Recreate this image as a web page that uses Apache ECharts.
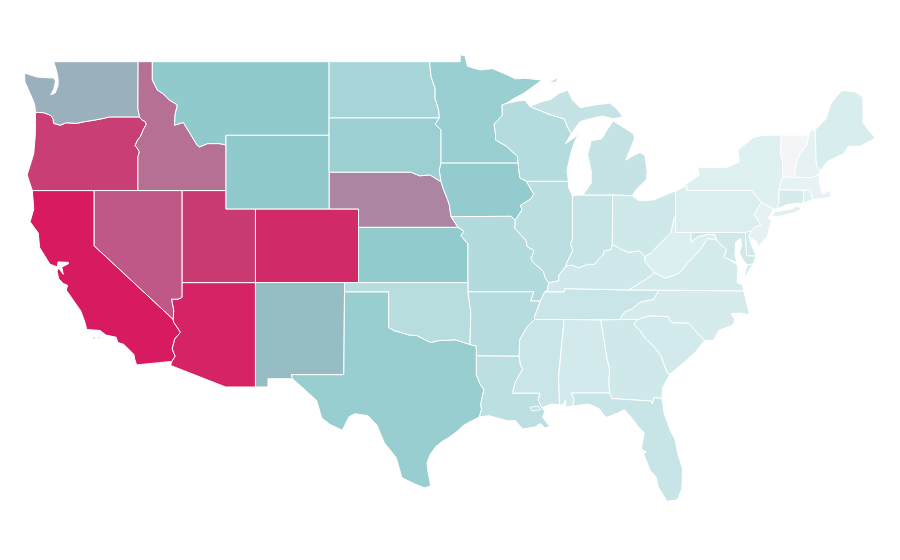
<!DOCTYPE html>
<html>
<head>
<meta charset="utf-8">
<style>
    html, body { margin: 0; padding: 0; background: #fff; }
    #box1 { width: 900px; height: 560px; }
</style>
</head>
<body>
<div id="box1"></div>
<script src="https://cdn.jsdelivr.net/npm/echarts@6/dist/echarts.min.js"></script>
<script>
var stateNames = ['California', 'Arizona', 'Colorado', 'Utah', 'Oregon', 'Nevada', 'Idaho', 'Nebraska', 'Washington', 'New Mexico',
    'Montana', 'Wyoming', 'Kansas', 'Iowa', 'Texas', 'North Dakota', 'South Dakota', 'Minnesota', 'Wisconsin', 'Illinois',
    'Missouri', 'Oklahoma', 'Arkansas', 'Louisiana', 'Mississippi', 'Alabama', 'Georgia', 'Florida', 'South Carolina', 'North Carolina',
    'Tennessee', 'Kentucky', 'Virginia', 'West Virginia', 'Indiana', 'Michigan', 'Ohio', 'Pennsylvania', 'New York', 'New Jersey',
    'Maryland', 'Delaware', 'Connecticut', 'Rhode Island', 'Massachusetts', 'New Hampshire', 'Vermont', 'Maine'];
var stateValues = [100, 97.7, 95.7, 91, 90, 82.6, 75.7, 69.7, 57.5, 54,
    49.5, 49.5, 49, 48.4, 45, 37, 44, 44.6, 30.4, 26.6,
    31, 28.3, 29.3, 26, 20.8, 17, 18.6, 21.6, 17.4, 16.3,
    20.8, 18.6, 16.7, 13.6, 22, 22.3, 18.6, 14, 12.5, 8.9,
    18.6, 18.2, 16.3, 12.5, 8.3, 8.9, 0.5, 15.2];
var colorStops = ['#f4f5f6', '#dff0f1', '#bee0e2', '#a7d5d8', '#90cacd', '#a29eb2', '#b47296', '#c6477b', '#d81b60'];

// shared borders, lon/lat
var columbia = [[-123.98, 46.25], [-123.43, 46.23], [-123.15, 46.15], [-122.9, 46.05], [-122.78, 45.85], [-122.75, 45.65], [-122.3, 45.55], [-121.9, 45.68], [-121.2, 45.65], [-120.65, 45.74], [-119.95, 45.83], [-119.3, 45.93], [-118.98, 46.0], [-116.92, 46.0]];
var snake = [[-116.92, 46.0], [-116.78, 45.85], [-116.55, 45.75], [-116.46, 45.6], [-116.67, 45.3], [-116.85, 44.95], [-117.05, 44.75], [-117.22, 44.45], [-117.03, 44.25], [-116.93, 44.1], [-117.03, 43.83], [-117.03, 42.0]];
var idMt = [[-116.05, 49], [-116.05, 48.0], [-115.7, 47.45], [-115.3, 47.25], [-114.95, 46.95], [-114.35, 46.65], [-114.5, 46.15], [-114.55, 45.55], [-113.95, 45.7], [-113.45, 45.05], [-113.0, 44.45], [-112.85, 44.37], [-112.3, 44.55], [-111.5, 44.55], [-111.05, 44.48]];
var colorado = [[-114.72, 32.72], [-114.5, 33.0], [-114.7, 33.4], [-114.53, 33.93], [-114.14, 34.3], [-114.6, 34.85], [-114.63, 35.0]];
var azNv = [[-114.63, 35.0], [-114.6, 35.5], [-114.75, 36.1], [-114.3, 36.1], [-114.04, 36.2]];
var redRiver = [[-100, 34.56], [-99.6, 34.38], [-99.2, 34.3], [-98.6, 34.15], [-98.1, 34.13], [-97.6, 33.92], [-97.15, 33.75], [-96.6, 33.85], [-95.9, 33.87], [-95.5, 33.9], [-94.48, 33.64]];
var sabine = [[-94.05, 31.99], [-93.8, 31.5], [-93.55, 31.18], [-93.75, 30.4], [-93.7, 30.1], [-93.85, 29.7]];
var ndMn = [[-97.23, 49], [-97.13, 48.2], [-96.85, 47.55], [-96.85, 47.0], [-96.6, 46.35], [-96.56, 45.94]];
var sdMn = [[-96.56, 45.94], [-96.85, 45.6], [-96.45, 45.3], [-96.45, 43.5]];
var sdIa = [[-96.45, 43.5], [-96.58, 43.1], [-96.45, 42.49]];
var sdNe = [[-104.05, 43], [-98.5, 43], [-97.9, 42.8], [-97.2, 42.85], [-96.7, 42.6], [-96.45, 42.49]];
var neIa = [[-96.45, 42.49], [-96.3, 42.1], [-96.0, 41.5], [-95.88, 41.2], [-95.77, 40.58]];
var mnWi = [[-92.05, 46.72], [-92.3, 46.65], [-92.29, 46.08], [-92.85, 45.6], [-92.75, 45.1], [-92.75, 44.75], [-92.0, 44.4], [-91.25, 43.85], [-91.22, 43.5]];
var iaEast = [[-91.22, 43.5], [-91.1, 42.7], [-90.65, 42.5], [-90.15, 41.8], [-90.35, 41.55], [-91.05, 41.2], [-90.95, 40.95], [-91.42, 40.38]];
var miMo = [[-91.42, 40.38], [-91.45, 39.95], [-90.7, 39.3], [-90.6, 38.95], [-90.15, 38.75], [-90.2, 38.6], [-90.35, 38.3], [-90.2, 38.1], [-89.5, 37.6], [-89.4, 37.3], [-89.15, 36.98]];
var moKy = [[-89.15, 36.98], [-89.2, 36.6], [-89.4, 36.5]];
var miTn = [[-89.4, 36.5], [-89.7, 36.0], [-90.1, 35.15], [-90.1, 35.0]];
var miMs = [[-90.1, 35.0], [-90.6, 34.6], [-91.1, 33.9], [-91.15, 33.0]];
var msLa = [[-91.15, 33.0], [-91.05, 32.5], [-90.9, 32.3], [-91.4, 31.6], [-91.6, 31.0], [-89.73, 31.0], [-89.85, 30.65], [-89.6, 30.2]];
var wabash = [[-87.53, 39.35], [-87.65, 39.1], [-87.5, 38.75], [-87.95, 38.0], [-87.95, 37.9]];
var ohioW = [[-87.95, 37.9], [-88.05, 37.8], [-88.45, 37.4], [-88.45, 37.1], [-89.15, 36.98]];
var ohioIn = [[-84.82, 39.1], [-84.9, 38.8], [-85.4, 38.72], [-85.45, 38.5], [-85.75, 38.27], [-86.05, 37.98], [-86.5, 38.0], [-87.1, 37.8], [-87.55, 37.95], [-87.95, 37.9]];
var ohioOh = [[-82.6, 38.42], [-83.0, 38.72], [-83.7, 38.65], [-84.2, 38.8], [-84.82, 39.1]];
var ohioWv = [[-80.52, 40.64], [-80.65, 40.4], [-80.85, 39.7], [-81.75, 39.0], [-82.2, 38.6], [-82.6, 38.42]];
var kyWv = [[-82.6, 38.42], [-82.6, 38.15], [-81.97, 37.54]];
var kyVa = [[-81.97, 37.54], [-82.3, 37.3], [-83.0, 36.95], [-83.68, 36.6]];
var vaWv = [[-77.72, 39.32], [-78.35, 39.4], [-78.87, 38.76], [-79.3, 38.42], [-80.3, 37.5], [-81.22, 37.24], [-81.97, 37.54]];
var mdWv = [[-79.48, 39.72], [-79.48, 39.2], [-79.05, 39.47], [-78.4, 39.62], [-77.85, 39.6], [-77.72, 39.32]];
var potomac = [[-77.72, 39.32], [-77.5, 39.1], [-77.05, 38.8], [-77.25, 38.4], [-77.0, 38.3], [-76.3, 37.95]];
var tnNc = [[-81.68, 36.59], [-82.0, 36.1], [-82.9, 35.95], [-83.5, 35.57], [-84.0, 35.4], [-84.32, 35.0]];
var ncSc = [[-83.1, 35.0], [-82.3, 35.2], [-81.05, 35.15], [-80.8, 34.82], [-79.65, 34.8], [-78.55, 33.85]];
var gaSc = [[-83.1, 35.0], [-83.35, 34.7], [-83.0, 34.45], [-82.55, 33.95], [-81.95, 33.5], [-81.5, 33.0], [-81.1, 32.1], [-80.9, 32.03]];
var alGa = [[-85.6, 34.98], [-85.18, 32.87], [-85.0, 32.3], [-85.05, 31.55], [-85.0, 31.0]];
var gaFl = [[-85.0, 31.0], [-84.85, 30.7], [-82.2, 30.57], [-82.1, 30.4], [-82.0, 30.75], [-81.45, 30.72]];
var alMs = [[-88.2, 35.0], [-88.1, 34.9], [-88.47, 31.9], [-88.4, 30.37]];
var alFl = [[-87.5, 30.3], [-87.4, 30.65], [-87.6, 31.0], [-85.0, 31.0]];
var paNj = [[-75.4, 39.8], [-75.1, 40.0], [-74.72, 40.15], [-75.2, 40.7], [-74.7, 41.36]];
var nyPa = [[-74.7, 41.36], [-75.35, 42.0], [-79.76, 42.0], [-79.76, 42.27], [-80.52, 41.98]];
var nyEast = [[-73.5, 41.3], [-73.5, 42.05], [-73.27, 42.75], [-73.25, 43.6], [-73.4, 44.0], [-73.34, 45.01]];
var vtNh = [[-71.5, 45.01], [-71.6, 44.5], [-72.05, 44.05], [-72.35, 43.5], [-72.45, 42.73]];
var upWi = [[-90.42, 46.57], [-89.1, 46.14], [-88.1, 45.9], [-87.8, 45.35], [-87.6, 45.1]];

function rev(seg) {
    return seg.slice().reverse();
}
function ring() {
    var pts = [];
    for (var i = 0; i < arguments.length; i++) {
        pts = pts.concat(arguments[i]);
    }
    pts.push(pts[0]);
    return pts;
}

var stateShapes = {
    'California': [
        [ring([[-124.2, 42], [-120, 42], [-120, 39], [-114.63, 35]], rev(colorado), [[-117.12, 32.53], [-117.25, 32.85], [-117.3, 33.1], [-118.0, 33.65], [-118.4, 33.75], [-118.5, 34.03], [-119.2, 34.15], [-119.6, 34.4], [-120.5, 34.45], [-120.65, 34.9], [-120.9, 35.45], [-121.9, 36.6], [-121.8, 36.85], [-122.1, 36.95], [-122.4, 37.2], [-122.52, 37.6], [-122.42, 37.8], [-122.1, 37.45], [-122.2, 37.85], [-121.75, 38.02], [-121.75, 38.1], [-122.45, 38.12], [-122.5, 37.85], [-123.0, 38.0], [-123.7, 38.9], [-123.8, 39.7], [-124.35, 40.3], [-124.1, 41.0]])],
        [ring([[-120.2, 34.0], [-119.95, 34.05], [-119.95, 33.92]])],
        [ring([[-119.85, 34.05], [-119.6, 34.05], [-119.6, 33.97]])]
    ],
    'Arizona': [[ring([[-114.04, 37], [-109.05, 37], [-109.05, 31.33], [-111.07, 31.33], [-114.81, 32.5]], colorado, azNv)]],
    'Colorado': [[ring([[-109.05, 41], [-102.05, 41], [-102.05, 37], [-109.05, 37]])]],
    'Utah': [[ring([[-114.04, 42], [-111.05, 42], [-111.05, 41], [-109.05, 41], [-109.05, 37], [-114.04, 37]])]],
    'Oregon': [[ring([[-124.2, 42], [-124.55, 42.85], [-124.1, 44], [-124.0, 45]], columbia, snake)]],
    'Nevada': [[ring([[-120, 42], [-114.04, 42], [-114.04, 37]], rev(azNv), [[-120, 39]])]],
    'Idaho': [[ring([[-117.03, 49]], idMt, [[-111.05, 42], [-117.03, 42]], rev(snake), [[-117.04, 46.43]])]],
    'Nebraska': [[ring(sdNe, neIa, [[-95.3, 40], [-102.05, 40], [-102.05, 41], [-104.05, 41]])]],
    'Washington': [[ring(rev(columbia), [[-124.05, 46.7], [-124.2, 47.0], [-124.7, 47.9], [-124.73, 48.38], [-123.9, 48.17], [-123.1, 48.12], [-122.78, 48.12], [-122.62, 47.95], [-122.75, 47.5], [-122.95, 47.2], [-122.65, 47.3], [-122.45, 47.7], [-122.45, 48.1], [-122.55, 48.5], [-122.75, 49], [-117.03, 49], [-117.04, 46.43]])]],
    'New Mexico': [[ring([[-109.05, 37], [-103, 37], [-103.05, 32], [-106.62, 32], [-106.53, 31.78], [-108.2, 31.78], [-108.2, 31.33], [-109.05, 31.33]])]],
    'Montana': [[ring(rev(idMt), [[-116.05, 49], [-104.05, 49], [-104.05, 45], [-111.05, 45]])]],
    'Wyoming': [[ring([[-111.05, 45], [-104.05, 45], [-104.05, 41], [-111.05, 41]])]],
    'Kansas': [[ring([[-102.05, 40], [-95.3, 40], [-94.9, 39.8], [-95.1, 39.55], [-94.62, 39.1], [-94.62, 37], [-102.05, 37]])]],
    'Iowa': [[ring(rev(sdIa), [[-96.45, 43.5]], iaEast, [[-91.7, 40.6]], rev(neIa))]],
    'Texas': [[ring([[-103, 36.5], [-100, 36.5]], redRiver, [[-94.05, 33.55], [-94.05, 33.02]], sabine, [[-94.7, 29.35], [-95.0, 29.2], [-95.3, 28.95], [-95.9, 28.6], [-96.4, 28.35], [-96.8, 28.1], [-97.2, 27.65], [-97.4, 27.2], [-97.35, 26.8], [-97.15, 25.96], [-97.55, 25.85], [-98.2, 26.05], [-99.1, 26.4], [-99.5, 27.5], [-100.3, 28.3], [-100.8, 29.25], [-101.4, 29.77], [-102.3, 29.88], [-102.7, 29.7], [-103.15, 28.98], [-104.0, 29.3], [-104.55, 29.65], [-104.9, 30.6], [-106.0, 31.4], [-106.53, 31.78], [-106.62, 32], [-103.05, 32]])]],
    'North Dakota': [[ring([[-104.05, 49]], ndMn, [[-104.05, 45.94]])]],
    'South Dakota': [[ring([[-104.05, 45.94]], sdMn, sdIa, rev(sdNe))]],
    'Minnesota': [[ring([[-97.23, 49], [-95.15, 49], [-95.15, 49.38], [-94.82, 49.32], [-94.65, 48.75], [-93.8, 48.55], [-92.95, 48.62], [-92.0, 48.3], [-91.4, 48.07], [-90.75, 48.1], [-89.6, 48.0], [-90.8, 47.3], [-91.5, 47.0]], mnWi, [[-96.45, 43.5]], rev(sdMn), rev(ndMn))]],
    'Wisconsin': [[ring([[-92.05, 46.72], [-91.2, 46.87], [-90.75, 46.9]], upWi, [[-88.0, 44.55], [-87.35, 44.9], [-87.05, 45.25], [-87.5, 44.4], [-87.7, 43.8], [-87.9, 43.1], [-87.8, 42.5], [-90.65, 42.5], [-91.1, 42.7], [-91.22, 43.5]], rev(mnWi))]],
    'Illinois': [[ring([[-90.65, 42.5], [-87.8, 42.5], [-87.8, 42.2], [-87.53, 41.7]], wabash, ohioW, rev(miMo), [[-90.95, 40.95], [-91.05, 41.2], [-90.35, 41.55], [-90.15, 41.8]])]],
    'Missouri': [[ring([[-95.77, 40.58], [-91.7, 40.6]], miMo, moKy, [[-89.7, 36.0], [-90.37, 36.0], [-90.15, 36.5], [-94.62, 36.5], [-94.62, 39.1], [-95.1, 39.55], [-94.9, 39.8], [-95.3, 40]])]],
    'Oklahoma': [[ring([[-103, 37], [-94.62, 37], [-94.62, 36.5], [-94.43, 35.4]], rev(redRiver), [[-100, 36.5], [-103, 36.5]])]],
    'Arkansas': [[ring([[-94.62, 36.5], [-90.15, 36.5], [-90.37, 36.0], [-89.7, 36.0], [-90.1, 35.15], [-90.1, 35.0]], miMs, [[-94.05, 33.02], [-94.05, 33.55], [-94.48, 33.64], [-94.43, 35.4]])]],
    'Louisiana': [[ring([[-94.05, 33.02]], msLa, [[-89.4, 30.0], [-89.55, 29.7], [-89.2, 29.3], [-89.0, 29.2], [-89.4, 29.1], [-89.7, 29.35], [-90.1, 29.15], [-90.9, 29.05], [-91.4, 29.5], [-91.85, 29.5], [-92.2, 29.55], [-93.2, 29.77]], rev(sabine)),
        ring([[-90.4, 30.22], [-89.85, 30.3], [-89.7, 30.1], [-90.25, 30.03]])]],
    'Mississippi': [[ring(miMs, msLa, [[-89.0, 30.4], [-88.4, 30.37]], rev(alMs))]],
    'Alabama': [[ring(alMs, [[-88.15, 30.35], [-88.0, 30.65], [-88.0, 30.25]], alFl, rev(alGa))]],
    'Georgia': [[ring([[-85.6, 34.98], [-83.1, 35.0]], gaSc, [[-81.4, 31.3]], rev(gaFl), rev(alGa).slice(1))]],
    'Florida': [[ring(alFl, gaFl, [[-81.3, 29.9], [-80.9, 29.0], [-80.55, 28.45], [-80.4, 27.8], [-80.05, 26.85], [-80.1, 25.8], [-80.4, 25.2], [-81.1, 25.12], [-81.7, 25.9], [-81.85, 26.45], [-82.25, 26.8], [-82.7, 27.7], [-82.5, 27.8], [-82.85, 27.95], [-82.65, 28.85], [-83.05, 29.15], [-83.3, 29.45], [-84.0, 30.1], [-84.35, 29.95], [-85.2, 29.68], [-85.4, 29.8], [-85.7, 30.15], [-86.4, 30.4]])]],
    'South Carolina': [[ring(ncSc, [[-79.2, 33.2], [-79.9, 32.7]], rev(gaSc))]],
    'North Carolina': [[ring([[-84.32, 35.0]], ncSc, [[-77.95, 33.85], [-77.6, 34.4], [-76.6, 34.7], [-76.5, 35.0], [-76.75, 35.3], [-76.1, 35.35], [-75.5, 35.25], [-75.75, 36.1], [-75.9, 36.55], [-81.68, 36.59]], tnNc.slice(1, -1))]],
    'Tennessee': [[ring([[-90.1, 35.0], [-88.2, 35.0], [-85.6, 34.98], [-84.32, 35.0]], rev(tnNc), [[-83.68, 36.6], [-88.07, 36.67], [-88.07, 36.5], [-89.4, 36.5]], miTn)]],
    'Kentucky': [[ring([[-89.4, 36.5], [-88.07, 36.5], [-88.07, 36.67], [-83.68, 36.6]], rev(kyVa), rev(kyWv), ohioOh, ohioIn, ohioW, moKy)]],
    'Virginia': [
        [ring([[-83.68, 36.6], [-81.68, 36.59], [-75.9, 36.55], [-76.0, 36.9], [-76.35, 37.0], [-76.3, 37.6]], rev(potomac), vaWv, kyVa)],
        [ring([[-75.95, 37.15], [-75.25, 38.03], [-75.65, 37.95]])]
    ],
    'West Virginia': [[ring(ohioWv, kyWv, rev(vaWv), rev(mdWv), [[-80.52, 39.72]])]],
    'Indiana': [[ring([[-87.53, 41.7], [-87.2, 41.75], [-86.82, 41.76], [-84.8, 41.76]], ohioIn, rev(wabash))]],
    'Michigan': [
        [ring([[-86.82, 41.76], [-84.8, 41.76], [-83.45, 41.72], [-83.15, 42.1], [-82.5, 42.6], [-82.45, 43.0], [-82.6, 43.9], [-82.95, 44.07], [-83.4, 43.9], [-83.9, 43.65], [-83.3, 44.85], [-83.4, 45.1], [-84.75, 45.78], [-85.1, 45.4], [-85.55, 44.8], [-86.25, 44.7], [-86.5, 43.95], [-86.25, 43.05], [-86.25, 42.4]])],
        [ring(upWi, [[-87.0, 45.75], [-86.3, 45.9], [-85.5, 46.05], [-84.75, 45.9], [-84.1, 46.0], [-84.55, 46.47], [-85.0, 46.75], [-86.0, 46.65], [-87.0, 46.5], [-87.5, 46.9], [-87.85, 47.45], [-88.4, 47.3], [-89.0, 46.95], [-89.6, 46.83]])],
        [ring([[-89.2, 47.85], [-88.5, 48.15], [-88.65, 47.88]])]
    ],
    'Ohio': [[ring([[-84.8, 41.76], [-83.45, 41.72], [-83.0, 41.45], [-82.7, 41.45], [-82.0, 41.5], [-81.2, 41.77], [-80.52, 41.98]], ohioWv, ohioOh)]],
    'Pennsylvania': [[ring([[-80.52, 41.98], [-80.52, 39.72], [-79.48, 39.72], [-75.79, 39.72]], paNj, nyPa.slice(1, -1))]],
    'New York': [
        [ring(rev(nyPa), [[-73.9, 41.0], [-73.65, 41.0]], nyEast, [[-74.7, 45.0], [-75.3, 44.85], [-76.3, 44.2], [-76.2, 43.55], [-77.0, 43.27], [-77.6, 43.25], [-79.05, 43.27], [-78.9, 42.85]])],
        [ring([[-74.03, 40.6], [-73.75, 40.85], [-72.6, 41.0], [-72.3, 41.15], [-71.9, 41.05], [-72.5, 40.8], [-73.5, 40.6]])]
    ],
    'New Jersey': [[ring(rev(paNj), [[-75.55, 39.5], [-75.0, 39.2], [-74.9, 38.95], [-74.3, 39.5], [-74.0, 40.4], [-74.25, 40.5], [-74.0, 40.75], [-73.9, 41.0]])]],
    'Maryland': [[ring(mdWv.slice(0, 1), [[-75.79, 39.72], [-75.7, 38.46], [-75.05, 38.45], [-75.25, 38.03], [-75.65, 37.95], [-75.9, 38.2], [-76.2, 38.6], [-76.05, 39.0], [-76.1, 39.4], [-76.45, 39.2], [-76.5, 38.5], [-76.35, 38.1]], rev(potomac).slice(1), rev(mdWv).slice(1, -1))]],
    'Delaware': [[ring([[-75.79, 39.72], [-75.4, 39.8], [-75.55, 39.5], [-75.4, 39.1], [-75.05, 38.45], [-75.7, 38.46]])]],
    'Connecticut': [[ring([[-73.65, 41.0], [-72.9, 41.25], [-71.85, 41.32], [-71.8, 42.02], [-73.5, 42.05], [-73.5, 41.3]])]],
    'Rhode Island': [[ring([[-71.85, 41.32], [-71.2, 41.5], [-71.38, 42.02], [-71.8, 42.02]])]],
    'Massachusetts': [[ring([[-73.5, 42.05], [-71.8, 42.02], [-71.38, 42.02], [-71.2, 41.5], [-70.7, 41.55], [-70.0, 41.65], [-70.0, 42.05], [-70.5, 41.8], [-70.7, 42.2], [-70.8, 42.87], [-71.3, 42.7], [-72.45, 42.73], [-73.27, 42.75]])]],
    'New Hampshire': [[ring(vtNh, [[-71.3, 42.7], [-70.8, 42.87], [-70.7, 43.07], [-70.97, 43.4], [-71.05, 45.3], [-71.3, 45.3]])]],
    'Vermont': [[ring([[-73.34, 45.01]], vtNh, [[-73.27, 42.75], [-73.25, 43.6], [-73.4, 44.0]])]],
    'Maine': [[ring([[-71.05, 45.3], [-70.3, 45.9], [-70.0, 46.7], [-69.23, 47.45], [-68.3, 47.35], [-67.8, 47.07], [-67.8, 45.7], [-67.45, 45.3], [-66.95, 44.85], [-68.0, 44.4], [-68.8, 44.4], [-69.1, 44.0], [-70.2, 43.6], [-70.7, 43.07], [-70.97, 43.4]])]]
};

var features = [];
var seriesData = [];
for (var i = 0; i < stateNames.length; i++) {
    features.push({
        type: 'Feature',
        properties: { name: stateNames[i] },
        geometry: { type: 'MultiPolygon', coordinates: stateShapes[stateNames[i]] }
    });
    seriesData.push({ name: stateNames[i], value: stateValues[i] });
}
echarts.registerMap('usa', { type: 'FeatureCollection', features: features });

var chart = echarts.init(document.getElementById('box1'));
var option = {
    animation: false,
    visualMap: {
        show: false,
        min: 0,
        max: 100,
        inRange: { color: colorStops }
    },
    series: [{
        type: 'map',
        map: 'usa',
        silent: true,
        aspectScale: 0.8,
        layoutCenter: [450, 278],
        layoutSize: 851,
        label: { show: false },
        itemStyle: { borderColor: '#fff', borderWidth: 1 },
        data: seriesData
    }]
};
chart.setOption(option);
</script>
</body>
</html>
